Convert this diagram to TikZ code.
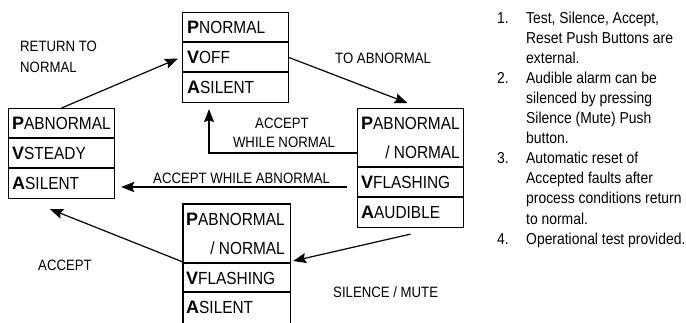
\documentclass[tikz,border=0pt]{standalone}
\usepackage{fontspec}
\setmainfont{Liberation Sans}
\newfontfamily\narrowfont[FakeStretch=0.88]{Liberation Sans}
\usetikzlibrary{arrows.meta,calc}
\newcommand{\BL}[1]{{\fontsize{18}{18}\selectfont\normalfont\bfseries #1}}
\begin{document}
\begin{tikzpicture}[x=1pt,y=-1pt,
  box/.style={line width=1.1pt,minimum width=106pt,anchor=north west,inner sep=0pt},
  ln/.style={line width=1.1pt},
  conn/.style={line width=1.2pt,-{Stealth[length=13pt,width=10pt,inset=2pt]}},
  thickconn/.style={line width=2.2pt,-{Stealth[length=13pt,width=10pt,inset=2pt]}},
  rowtxt/.style={anchor=base west,inner sep=0pt,font=\narrowfont\fontsize{17.5}{17.5}\selectfont},
  rowtxtr/.style={anchor=base east,inner sep=0pt,font=\narrowfont\fontsize{17.5}{17.5}\selectfont},
  lbl/.style={anchor=base west,inner sep=0pt,font=\narrowfont\fontsize{15}{15}\selectfont},
  lblc/.style={anchor=base,inner sep=0pt,font=\narrowfont\fontsize{15}{15}\selectfont},
  note/.style={anchor=base west,inner sep=0pt,font=\narrowfont\fontsize{15.8}{15.8}\selectfont}]
\useasboundingbox (0,0) rectangle (686,322);

% ---- boxes ----
\node[box,draw,minimum height=90pt] (top) at (182,12) {};
\draw[ln] ($(top.north west)+(0,30)$) -- ($(top.north east)+(0,30)$);
\draw[ln] ($(top.north west)+(0,60)$) -- ($(top.north east)+(0,60)$);

\node[box,draw,minimum height=90pt] (left) at (8,108) {};
\draw[ln] ($(left.north west)+(0,30)$) -- ($(left.north east)+(0,30)$);
\draw[ln] ($(left.north west)+(0,60)$) -- ($(left.north east)+(0,60)$);

\node[box,draw,minimum height=119pt] (right) at (357,108) {};
\draw[ln] ($(right.north west)+(0,59)$) -- ($(right.north east)+(0,59)$);
\draw[ln] ($(right.north west)+(0,89)$) -- ($(right.north east)+(0,89)$);

\node[box,minimum height=118pt] (bot) at (183,204) {};
\draw[ln] (bot.south west) -- (bot.north west) -- (bot.north east) -- (bot.south east);
\draw[ln] ($(bot.north west)+(0,59)$) -- ($(bot.north east)+(0,59)$);
\draw[ln] ($(bot.north west)+(0,88)$) -- ($(bot.north east)+(0,88)$);

% ---- box texts ----
\node[rowtxt] (t1) at (187,33.5) {\BL{P}NORMAL};
\node[rowtxt] (t2) at (187,63.5) {\BL{V}OFF};
\node[rowtxt] (t3) at (187,93.5) {\BL{A}SILENT};

\node[rowtxt] (l1) at (12,129.5) {\BL{P}ABNORMAL};
\node[rowtxt] (l2) at (12,159.5) {\BL{V}STEADY};
\node[rowtxt] (l3) at (12,189.5) {\BL{A}SILENT};

\node[rowtxt] (r1) at (361,129.5) {\BL{P}ABNORMAL};
\node[rowtxtr] (r1b) at (460,158) {/ NORMAL};
\node[rowtxt] (r2) at (361,188.5) {\BL{V}FLASHING};
\node[rowtxt] (r3) at (361,218.5) {\BL{A}AUDIBLE};

\node[rowtxt] (b1) at (186,225.5) {\BL{P}ABNORMAL};
\node[rowtxtr] (b1b) at (285,254) {/ NORMAL};
\node[rowtxt] (b2) at (186,284) {\BL{V}FLASHING};
\node[rowtxt] (b3) at (186,313.5) {\BL{A}SILENT};

% ---- connectors ----
\draw[conn] (left.north) -- ($(top.west)+(-4,1)$);
\draw[conn] (top.east) -- ($(right.north)+(-3,-5)$);
\draw[conn] ($(right.north west)+(0,45)$) -| ($(top.south west)+(27,6)$);
\draw[thickconn] ($(right.north west)+(-10,79)$) -- ($(left.north east)+(6,79)$);
\draw[conn] ($(bot.north west)+(0,58)$) -- ($(left.south west)+(42,10)$);
\draw[conn] ($(right.south)+(0,6)$) -- ($(bot.north east)+(3,57)$);

% ---- labels ----
\node[lbl] (lab1a) at (20,51) {RETURN TO};
\node[lbl] (lab1b) at (20,72) {NORMAL};
\node[lbl] (lab2) at (335,63) {TO ABNORMAL};
\node[lblc] (lab3a) at (282,128) {ACCEPT};
\node[lblc] (lab3b) at (284,147) {WHILE NORMAL};
\node[lbl] (lab4) at (153,183) {ACCEPT WHILE ABNORMAL};
\node[lblc] (lab5) at (65,270) {ACCEPT};
\node[lbl] (lab6) at (333,297) {SILENCE / MUTE};

% ---- notes ----
\node[note] (n1) at (497,23) {1.};
\node[note] (n1a) at (526,23) {Test, Silence, Accept,};
\node[note] (n1b) at (526,43.1) {Reset Push Buttons are};
\node[note] (n1c) at (526,63.2) {external.};
\node[note] (n2) at (497,83.3) {2.};
\node[note] (n2a) at (526,83.3) {Audible alarm can be};
\node[note] (n2b) at (526,103.4) {silenced by pressing};
\node[note] (n2c) at (526,123.5) {Silence (Mute) Push};
\node[note] (n2d) at (526,143.6) {button.};
\node[note] (n3) at (497,163.7) {3.};
\node[note] (n3a) at (526,163.7) {Automatic reset of};
\node[note] (n3b) at (526,183.8) {Accepted faults after};
\node[note] (n3c) at (526,203.9) {process conditions return};
\node[note] (n3d) at (526,224) {to normal.};
\node[note] (n4) at (497,244.1) {4.};
\node[note] (n4a) at (526,244.1) {Operational test provided.};
\end{tikzpicture}
\end{document}
